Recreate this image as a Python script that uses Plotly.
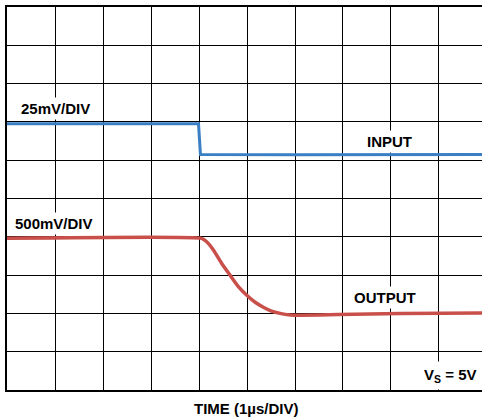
import plotly.graph_objects as go

# time in divisions (1 us/DIV), amplitude in screen divisions
input_t = [0, 3.99, 4.03, 6.0, 9.9]
input_v = [6.95, 6.95, 6.15, 6.14, 6.15]

output_t = [0, 4.055, 4.16, 4.30, 4.47, 4.646, 4.82, 4.99, 5.17, 5.34, 5.51, 5.69, 5.90, 6.10, 6.9, 8.2, 9.9]
output_v = [3.96, 3.96, 3.87, 3.655, 3.31, 3.00, 2.70, 2.48, 2.29, 2.16, 2.06, 2.00, 1.96, 1.95, 1.97, 2.00, 2.01]

FONT = "Arial, Liberation Sans, sans-serif"

fig = go.Figure()
fig.add_trace(go.Scatter(x=input_t, y=input_v, mode="lines",
                         line=dict(color="#3a7fc4", width=3), hoverinfo="skip"))
fig.add_trace(go.Scatter(x=output_t, y=output_v, mode="lines",
                         line=dict(color="#c9504a", width=3.5, shape="spline", smoothing=0.4),
                         hoverinfo="skip"))

def label(text, x, y, xanchor="center", size=15):
    fig.add_annotation(x=x, y=y, xref="x", yref="y", text="<b>" + text + "</b>",
                       showarrow=False, xanchor=xanchor, yanchor="middle",
                       bgcolor="white", borderpad=2,
                       font=dict(family=FONT, size=size, color="black"))

label("25mV/DIV", 0.22, 7.36, "left")
label("500mV/DIV", 0.1, 4.36, "left")
label("INPUT", 7.96, 6.48)
label("OUTPUT", 7.875, 2.42)
fig.add_annotation(x=9.88, y=0.37, xref="x", yref="y",
                   text="<b>V<sub>S</sub> = 5V</b>", showarrow=False,
                   xanchor="right", yanchor="middle", bgcolor="white", borderpad=4,
                   font=dict(family=FONT, size=15, color="black"))
fig.add_annotation(x=0.505, y=-0.047, xref="paper", yref="paper",
                   text="<b>TIME (1µs/DIV)</b>", showarrow=False,
                   xanchor="center", yanchor="middle",
                   font=dict(family=FONT, size=15, color="black"))

fig.update_xaxes(range=[0, 9.896], dtick=1, tick0=0, showgrid=True, gridcolor="black",
                 gridwidth=1.3, zeroline=False, showticklabels=False, ticks="",
                 showline=True, linecolor="black", linewidth=2, mirror=True)
fig.update_yaxes(range=[0, 10], dtick=1, tick0=0, showgrid=True, gridcolor="black",
                 gridwidth=1.3, zeroline=False, showticklabels=False, ticks="",
                 showline=True, linecolor="black", linewidth=2, mirror=False)

fig.update_layout(width=482, height=420, showlegend=False,
                  margin=dict(l=7, r=0, t=7, b=30),
                  plot_bgcolor="white", paper_bgcolor="white")

fig.write_html("out.html", config={"displayModeBar": False},
               post_script="document.body.style.margin='0';document.body.style.overflow='hidden';")
